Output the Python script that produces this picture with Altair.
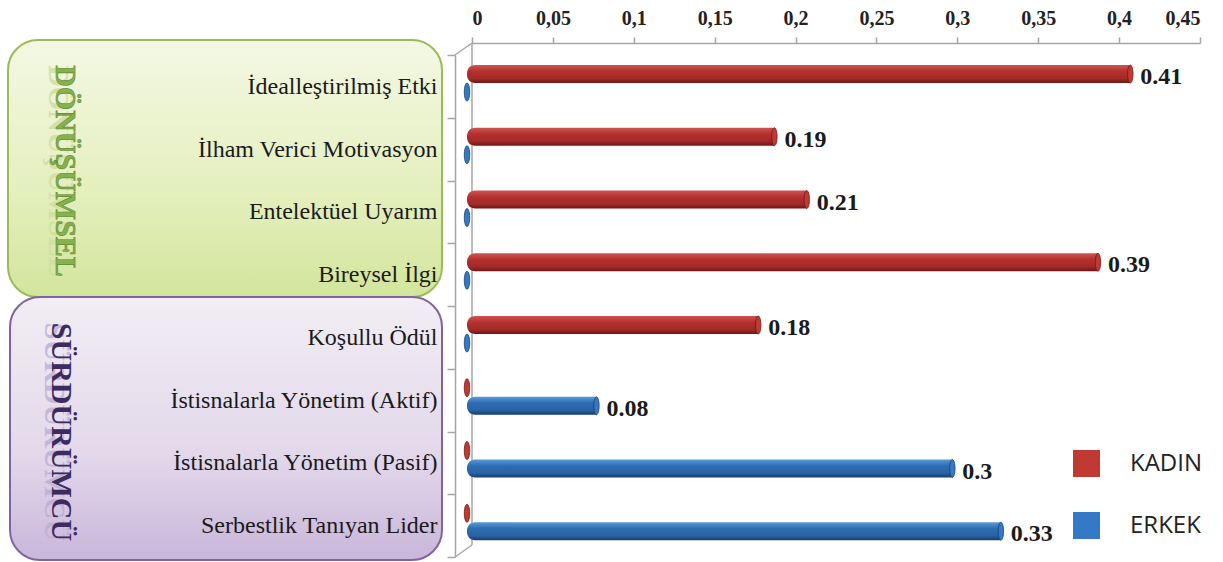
import altair as alt
import pandas as pd

# Leadership dimensions and mean values by gender
categories = [
    "İdealleştirilmiş Etki",
    "İlham Verici Motivasyon",
    "Entelektüel Uyarım",
    "Bireysel İlgi",
    "Koşullu Ödül",
    "İstisnalarla Yönetim (Aktif)",
    "İstisnalarla Yönetim (Pasif)",
    "Serbestlik Tanıyan Lider",
]
kadin = [0.41, 0.19, 0.21, 0.39, 0.18, 0, 0, 0]
erkek = [0, 0, 0, 0, 0, 0.08, 0.3, 0.33]
genders = ["KADIN", "ERKEK"]
groups = ["DÖNÜŞÜMSEL", "SÜRDÜRÜMCÜ"]
x_ticks = [0, 0.05, 0.1, 0.15, 0.2, 0.25, 0.3, 0.35, 0.4, 0.45]

rows = []
for cat, k, e in zip(categories, kadin, erkek):
    rows.append({"category": cat, "gender": "KADIN", "value": k})
    rows.append({"category": cat, "gender": "ERKEK", "value": e})
df = pd.DataFrame(rows)

SERIF = "Liberation Serif"
W, H = 728, 502
GRID = "#a6a6a6"

x_enc = alt.X(
    "value:Q", stack=None,
    scale=alt.Scale(domain=[0, 0.45], nice=False),
    axis=alt.Axis(
        orient="top", values=x_ticks, format=".2~f",
        labelExpr="replace(datum.label, '.', ',')",
        labelFont=SERIF, labelFontWeight="bold", labelFontSize=20, labelColor="#222",
        domainColor=GRID, domainWidth=1.5, tickColor=GRID, tickWidth=1.5,
        tickSize=6, labelPadding=9, offset=12, grid=False, title=None,
    ),
)
y_enc = alt.Y(
    "category:N", sort=categories,
    scale=alt.Scale(paddingInner=0, paddingOuter=0),
    axis=alt.Axis(
        title=None, labelFont=SERIF, labelFontSize=24, labelColor="#1a1a1a",
        tickBand="extent", tickSize=8, tickColor=GRID, tickWidth=1.5,
        domainColor=GRID, domainWidth=1.5, offset=17,
        labelPadding=10, labelLimit=420, zindex=1, grid=False,
    ),
)
yoff_enc = alt.YOffset(
    "gender:N", sort=genders,
    scale=alt.Scale(paddingInner=0, paddingOuter=0.743, align=0.374),
)

# Rounded group panels behind the labels
green_fill = alt.Gradient(
    gradient="linear", x1=0, y1=0, x2=0, y2=1,
    stops=[alt.GradientStop(color="#f4f8e4", offset=0),
           alt.GradientStop(color="#e4efbd", offset=0.6),
           alt.GradientStop(color="#d3e59c", offset=1)],
)
purple_fill = alt.Gradient(
    gradient="linear", x1=0, y1=0, x2=0, y2=1,
    stops=[alt.GradientStop(color="#f2eef4", offset=0),
           alt.GradientStop(color="#e2d8ea", offset=0.6),
           alt.GradientStop(color="#c9b6da", offset=1)],
)
g1 = pd.DataFrame({"group": [groups[0]]})
g2 = pd.DataFrame({"group": [groups[1]]})

box1 = alt.Chart(g1).mark_rect(
    cornerRadius=30, fill=green_fill, stroke="#9bbb59", strokeWidth=2
).encode(x=alt.value(-464), x2=alt.value(-30), y=alt.value(-15), y2=alt.value(242))
box2 = alt.Chart(g2).mark_rect(
    cornerRadius=30, fill=purple_fill, stroke="#8064a2", strokeWidth=2
).encode(x=alt.value(-462), x2=alt.value(-30), y=alt.value(242), y2=alt.value(505))

title1_glow = alt.Chart(g1).mark_text(
    angle=90, font=SERIF, fontSize=30, fontWeight="bold", color="#cfe0a6", opacity=0.9
).encode(text="group:N", x=alt.value(-414), y=alt.value(116))
title1 = alt.Chart(g1).mark_text(
    angle=90, font=SERIF, fontSize=30, fontWeight="bold", color="#86b24e",
    stroke="#5f8a2e", strokeWidth=0.6
).encode(text="group:N", x=alt.value(-407), y=alt.value(116))
title2_glow = alt.Chart(g2).mark_text(
    angle=90, font=SERIF, fontSize=30, fontWeight="bold", color="#b7b0d6", opacity=0.8
).encode(text="group:N", x=alt.value(-418), y=alt.value(377))
title2 = alt.Chart(g2).mark_text(
    angle=90, font=SERIF, fontSize=30, fontWeight="bold", color="#3d2a5e"
).encode(text="group:N", x=alt.value(-411), y=alt.value(377))

# 3-D frame: back wall edge and the corner joins to the front axis
wall = alt.Chart(g1).mark_rule(color=GRID, strokeWidth=1.5).encode(
    x=alt.value(0), y=alt.value(-12), y2=alt.value(490))
corner_top = alt.Chart(g1).mark_rule(color=GRID, strokeWidth=1.5).encode(
    x=alt.value(-17), x2=alt.value(0), y=alt.value(0), y2=alt.value(-12))
corner_bottom = alt.Chart(g1).mark_rule(color=GRID, strokeWidth=1.5).encode(
    x=alt.value(-17), x2=alt.value(0), y=alt.value(502), y2=alt.value(490))

# Cylinder-like bars: vertical gradient body plus an elliptical end cap
red_grad = alt.Gradient(
    gradient="linear", x1=0, y1=0, x2=0, y2=1,
    stops=[alt.GradientStop(color="#cf5450", offset=0),
           alt.GradientStop(color="#b4312e", offset=0.35),
           alt.GradientStop(color="#a22a27", offset=0.75),
           alt.GradientStop(color="#6e1614", offset=1)],
)
blue_grad = alt.Gradient(
    gradient="linear", x1=0, y1=0, x2=0, y2=1,
    stops=[alt.GradientStop(color="#5a98dc", offset=0),
           alt.GradientStop(color="#2f6db2", offset=0.35),
           alt.GradientStop(color="#2a62a4", offset=0.75),
           alt.GradientStop(color="#163d6c", offset=1)],
)

SHIFT = -5  # front face of the bars sits slightly ahead of the back wall

base = alt.Chart(df)
bars_red = base.transform_filter("datum.gender == 'KADIN' && datum.value > 0").mark_bar(
    fill=red_grad, cornerRadiusTopLeft=8, cornerRadiusBottomLeft=8,
    xOffset=SHIFT, x2Offset=SHIFT,
).encode(x=x_enc, x2=alt.datum(0), y=y_enc, yOffset=yoff_enc)
bars_blue = base.transform_filter("datum.gender == 'ERKEK' && datum.value > 0").mark_bar(
    fill=blue_grad, cornerRadiusTopLeft=8, cornerRadiusBottomLeft=8,
    xOffset=SHIFT, x2Offset=SHIFT,
).encode(x=x_enc, x2=alt.datum(0), y=y_enc, yOffset=yoff_enc)

ellipse = "M0,-1 A0.3,1 0 1,1 0,1 A0.3,1 0 1,1 0,-1 Z"
caps = base.mark_point(
    shape=ellipse, size=324, filled=True, opacity=1, strokeWidth=0.8, xOffset=SHIFT
).encode(
    x=x_enc, y=y_enc, yOffset=yoff_enc,
    color=alt.Color(
        "gender:N", sort=genders,
        scale=alt.Scale(domain=genders, range=["#c23833", "#3479c6"]),
        legend=alt.Legend(
            title=None, orient="none", legendX=601, legendY=395,
            symbolType="square", symbolSize=729, symbolStrokeWidth=0,
            labelFont="Open Sans", labelFontSize=24, labelColor="#222",
            rowPadding=35, labelOffset=30,
        ),
    ),
    stroke=alt.Stroke(
        "gender:N", sort=genders,
        scale=alt.Scale(domain=genders, range=["#6e1614", "#163d6c"]),
        legend=None,
    ),
)

labels = base.transform_filter("datum.value > 0").mark_text(
    align="left", baseline="middle", dx=10, dy=3, xOffset=SHIFT,
    font=SERIF, fontSize=24, fontWeight="bold", color="#1a1a1a",
).encode(
    x=x_enc, y=y_enc, yOffset=yoff_enc,
    text=alt.Text("value:Q", format=".2~f"),
)

chart = alt.layer(
    box1, box2, title1_glow, title1, title2_glow, title2,
    wall, corner_top, corner_bottom,
    bars_red, bars_blue, caps, labels,
).properties(
    width=W, height=H,
    autosize=alt.AutoSizeParams(type="none"),
    padding={"left": 472, "top": 55, "right": 23, "bottom": 5},
    background="white",
).configure_view(stroke=None)

chart.save("out.html", embed_options={"renderer": "svg", "actions": False})
